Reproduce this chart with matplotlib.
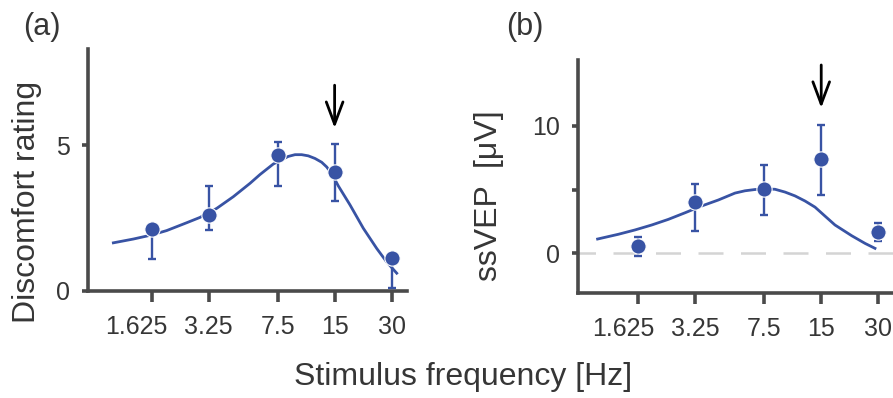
import matplotlib
matplotlib.use('Agg')
import matplotlib.pyplot as plt
from matplotlib.ticker import NullLocator
from matplotlib.transforms import ScaledTranslation

# ---------------- data ----------------
freqs = [1.625, 3.25, 7.5, 15, 30]
tick_labels = ['1.625', '3.25', '7.5', '15', '30']

rating_mean = [2.11, 2.60, 4.66, 4.09, 1.12]
rating_lo = [1.08, 2.09, 3.61, 3.09, 0.11]
rating_hi = [2.25, 3.61, 5.11, 5.03, 1.25]

rating_fit_f = [1.02, 1.30, 1.625, 1.95, 2.49, 2.92, 3.58, 4.38, 5.37, 6.06, 7.12,
                8.54, 9.27, 10.05, 10.89, 11.82, 12.82, 13.62, 14.48, 15.69, 18.08,
                21.25, 25.0, 28.2, 31.9]
rating_fit_y = [1.65, 1.78, 1.92, 2.07, 2.34, 2.52, 2.83, 3.23, 3.69, 3.99, 4.35,
                4.61, 4.67, 4.67, 4.63, 4.54, 4.41, 4.25, 4.02, 3.60, 2.95,
                2.15, 1.46, 1.00, 0.61]

ssvep_mean = [0.57, 4.00, 5.02, 7.37, 1.65]
ssvep_lo = [-0.19, 1.77, 3.00, 4.57, 0.99]
ssvep_hi = [1.30, 5.41, 6.92, 10.05, 2.35]

ssvep_fit_f = [0.991, 1.274, 1.56, 1.913, 2.34, 2.87, 3.51, 4.30, 5.26, 5.94, 6.71,
               7.58, 8.55, 9.66, 10.91, 12.32, 13.91, 15.70, 17.73, 21.72, 25.53, 28.83]
ssvep_fit_y = [1.12, 1.49, 1.83, 2.22, 2.66, 3.18, 3.71, 4.18, 4.72, 4.90, 5.00,
               5.04, 5.02, 4.80, 4.50, 4.10, 3.62, 2.92, 2.22, 1.38, 0.78, 0.39]

rating_yticks = [0, 5]
rating_yticklabels = ['0', '5']
ssvep_yticks = [0, 5, 10]
ssvep_yticklabels = ['0', '', '10']
marked_freq = 15

# ---------------- style ----------------
plt.rcParams['font.family'] = ['Liberation Sans', 'DejaVu Sans']
BLUE = '#3853A4'
SPINE = '#4a4a4a'
TXT = '#363636'

W, H = 893, 398
fig = plt.figure(figsize=(W / 100, H / 100), dpi=100)


def rect(l, r, b, t):
    return [l / W, 1 - b / H, (r - l) / W, (b - t) / H]


axA = fig.add_axes(rect(88, 407, 291, 49))
axB = fig.add_axes(rect(578, 897, 293, 60))


def style(ax, xlim, ylim, yticks, yticklabels):
    ax.set_xscale('log', base=2)
    ax.set_xlim(*xlim)
    ax.set_ylim(*ylim)
    ax.xaxis.set_minor_locator(NullLocator())
    ax.set_xticks(freqs)
    ax.set_xticklabels(tick_labels)
    ax.set_yticks(yticks)
    ax.set_yticklabels(yticklabels)
    for s in ['top', 'right']:
        ax.spines[s].set_visible(False)
    for s in ['left', 'bottom']:
        ax.spines[s].set_color(SPINE)
        ax.spines[s].set_linewidth(2.6)
    ax.tick_params(axis='x', length=8, width=2.6, color=SPINE, pad=9,
                   labelsize=18, labelcolor=TXT)
    ax.tick_params(axis='y', length=4, width=2.6, color=SPINE, pad=9,
                   labelsize=18, labelcolor=TXT)
    ax.patch.set_visible(False)
    # first label sits a little to the left of its tick
    lab = ax.get_xticklabels()[0]
    lab.set_transform(lab.get_transform() +
                      ScaledTranslation(-15 / 100, 0, fig.dpi_scale_trans))


def draw(ax, fit_f, fit_y, mean, lo, hi):
    ax.plot(fit_f, fit_y, color=BLUE, lw=2.0, zorder=2, solid_joinstyle='round')
    yerr = [[m - l for m, l in zip(mean, lo)], [h - m for m, h in zip(mean, hi)]]
    ax.errorbar(freqs, mean, yerr=yerr, fmt='none', ecolor=BLUE, elinewidth=1.7,
                capsize=3, capthick=1.7, zorder=3, clip_on=False)
    ax.plot(freqs, mean, 'o', ms=11, mfc=BLUE, mec='white', mew=0.8,
            zorder=4, clip_on=False)


style(axA, (0.7496, 36.14), (0, 8.29), rating_yticks, rating_yticklabels)
style(axB, (0.781, 37.67), (-3.11, 15.15), ssvep_yticks, ssvep_yticklabels)

axB.axhline(0, color='#d4d4d4', lw=1.8, ls=(3, (10, 7)), zorder=1)

draw(axA, rating_fit_f, rating_fit_y, rating_mean, rating_lo, rating_hi)
draw(axB, ssvep_fit_f, ssvep_fit_y, ssvep_mean, ssvep_lo, ssvep_hi)

arrow = dict(arrowstyle='->,head_length=0.8,head_width=0.3', lw=2.0,
             color='black', shrinkA=0, shrinkB=0, mutation_scale=20)
axA.annotate('', xy=(marked_freq, 5.58), xytext=(marked_freq, 7.05),
             arrowprops=arrow, annotation_clip=False)
axB.annotate('', xy=(marked_freq, 11.39), xytext=(marked_freq, 14.76),
             arrowprops=arrow, annotation_clip=False)

fig.text(42 / W, 1 - 27 / H, '(a)', ha='center', va='center', fontsize=22, color=TXT)
fig.text(525 / W, 1 - 27 / H, '(b)', ha='center', va='center', fontsize=22, color=TXT)
fig.text(27 / W, 1 - 202 / H, 'Discomfort rating', rotation=90, ha='center',
         va='center', fontsize=23, color=TXT)
fig.text(489 / W, 1 - 196 / H, 'ssVEP  [μV]', rotation=90, ha='center',
         va='center', fontsize=23, color=TXT)
fig.text(463 / W, 1 - 377 / H, 'Stimulus frequency [Hz]', ha='center',
         va='center', fontsize=23, color=TXT)

fig.savefig('out.png', dpi=100)
